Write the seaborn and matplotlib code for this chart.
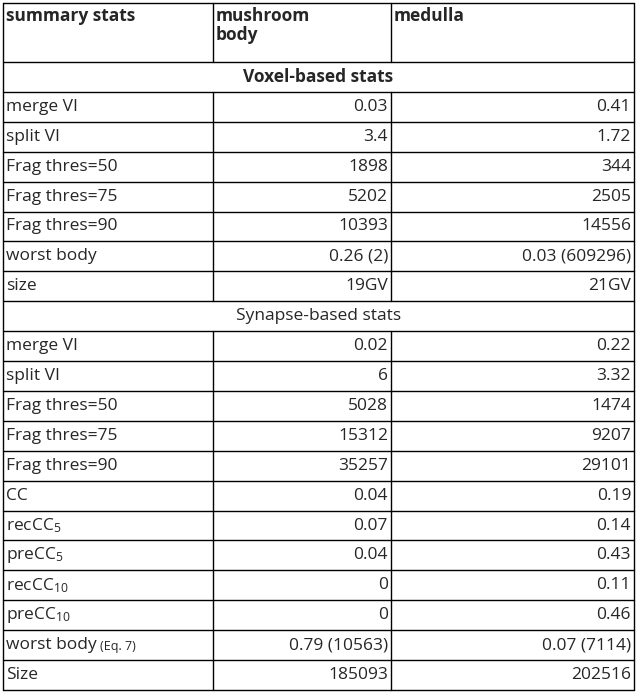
import matplotlib
matplotlib.use("Agg")
import matplotlib.pyplot as plt
import seaborn as sns

sns.set_theme(style="white")
plt.rcParams['font.family'] = ['Open Sans', 'DejaVu Sans']
plt.rcParams['mathtext.fontset'] = 'custom'
plt.rcParams['mathtext.rm'] = 'Open Sans'
plt.rcParams['mathtext.it'] = 'Open Sans'

header = ["summary stats", "mushroom\nbody", "medulla"]
section1 = "Voxel-based stats"
voxel_labels = ["merge VI", "split VI", "Frag thres=50", "Frag thres=75",
                "Frag thres=90", "worst body", "size"]
voxel_mb = ["0.03", "3.4", "1898", "5202", "10393", "0.26 (2)", "19GV"]
voxel_med = ["0.41", "1.72", "344", "2505", "14556", "0.03 (609296)", "21GV"]
section2 = "Synapse-based stats"
syn_labels = ["merge VI", "split VI", "Frag thres=50", "Frag thres=75", "Frag thres=90",
              "CC", "recCC$_5$", "preCC$_5$", "recCC$_{10}$", "preCC$_{10}$",
              "worst body", "Size"]
syn_mb = ["0.02", "6", "5028", "15312", "35257", "0.04", "0.07", "0.04", "0", "0",
          "0.79 (10563)", "185093"]
syn_med = ["0.22", "3.32", "1474", "9207", "29101", "0.19", "0.14", "0.43", "0.11", "0.46",
           "0.07 (7114)", "202516"]

W, H = 638, 695
fig = plt.figure(figsize=(W / 100, H / 100), dpi=100)
ax = fig.add_axes([0, 0, 1, 1])
ax.set_xlim(0, W)
ax.set_ylim(H, 0)
ax.axis("off")

x0, x1, x2, x3 = 3, 213, 391, 634
ytop, yhead = 3, 62
nrows = 1 + len(voxel_labels) + 1 + len(syn_labels)
ybot = 690
rh = (ybot - yhead) / nrows
fs = 12.5
lc = "black"

def hline(y, lw=1.0):
    ax.plot([x0, x3], [y, y], color=lc, lw=lw)

# header
ax.text(x0 + 3, ytop + 4, header[0], fontsize=fs, fontweight="bold", va="top", ha="left")
ax.text(x1 + 3, ytop + 4, header[1], fontsize=fs, fontweight="bold", va="top", ha="left", linespacing=1.1)
ax.text(x2 + 3, ytop + 4, header[2], fontsize=fs, fontweight="bold", va="top", ha="left")

rows = []
rows.append(("section", section1, True))
for a, b, c in zip(voxel_labels, voxel_mb, voxel_med):
    rows.append(("row", (a, b, c), False))
rows.append(("section", section2, False))
for a, b, c in zip(syn_labels, syn_mb, syn_med):
    rows.append(("row", (a, b, c), False))

hline(ytop)
hline(yhead)
for i, (kind, content, bold) in enumerate(rows):
    y = yhead + i * rh
    yc = y + rh / 2
    if kind == "section":
        ax.text((x0 + x3) / 2, yc, content, fontsize=fs, ha="center", va="center",
                fontweight="bold" if bold else "normal")
    else:
        a, b, c = content
        t = ax.text(x0 + 3, yc, a, fontsize=fs, ha="left", va="center")
        if a == "worst body" and i > 10:
            ax.text(x0 + 97, yc + 1, "(Eq. 7)", fontsize=9, ha="left", va="center")
        ax.text(x2 - 3, yc, b, fontsize=fs, ha="right", va="center")
        ax.text(x3 - 3, yc, c, fontsize=fs, ha="right", va="center")
        ax.plot([x1, x1], [y, y + rh], color=lc, lw=1)
        ax.plot([x2, x2], [y, y + rh], color=lc, lw=1)
    hline(y + rh)

ax.plot([x1, x1], [ytop, yhead], color=lc, lw=1)
ax.plot([x2, x2], [ytop, yhead], color=lc, lw=1)
ax.plot([x0, x0], [ytop, ybot], color=lc, lw=1)
ax.plot([x3, x3], [ytop, ybot], color=lc, lw=1)

fig.savefig("out.png", dpi=100, facecolor="white")
